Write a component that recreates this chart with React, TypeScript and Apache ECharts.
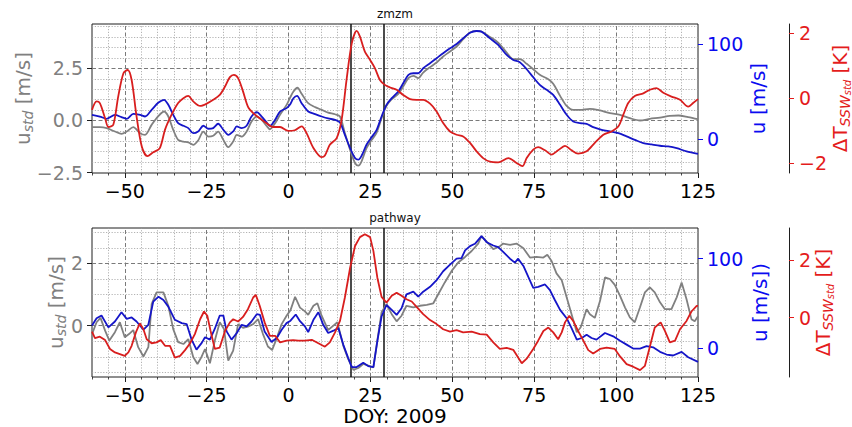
import { useEffect, useRef } from 'react';
import * as echarts from 'echarts';

type Pt = [number, number];

// Axis ticks
const DOY_TICKS = [-50, -25, 0, 25, 50, 75, 100, 125];
const EVENT_DOYS = [19, 29];
const ZMZM_STD_TICKS = [-2.5, 0, 2.5];
const PATHWAY_STD_TICKS = [0, 2];
const WIND_TICKS = [0, 100];
const ZMZM_TEMP_TICKS = [-2, 0, 2];
const PATHWAY_TEMP_TICKS = [0, 2];

// zmzm: standardised wind (grey, left axis)
const zmzmStd: Pt[] = [
  [-60, -0.32], [-57.6, -0.32], [-55.5, -0.37], [-53, -0.53], [-51, -0.64], [-49.4, -0.53], [-47.4, -0.32],
  [-45.3, -0.61], [-43.8, -0.69], [-41.8, -0.21], [-39.7, 0.22], [-38, 0.43], [-36.7, 0.19], [-35.2, -0.45],
  [-33.7, -0.93], [-32.1, -1.01], [-30.6, -1.05], [-29.1, -1.17], [-27.6, -0.96], [-26, -0.53], [-24.5, -0.77],
  [-23, -0.73], [-21.5, -0.53], [-19.9, -0.93], [-18.4, -1.28], [-16.9, -1.01], [-15.8, -0.69], [-14.3, -0.77],
  [-12.8, -0.53], [-11.3, -0.05], [-9.7, 0.19], [-8.2, 0.03], [-6.7, -0.26], [-5.7, -0.42], [-4.1, -0.13],
  [-2.6, 0.27], [-0.6, 0.75], [0.4, 1.07], [1.5, 1.39], [2.7, 1.57], [4, 1.28], [6, 0.83], [8.1, 0.64],
  [10.1, 0.51], [12.1, 0.38], [14.2, 0.3], [15.7, 0.19], [17.2, -0.61], [18.8, -1.41], [20.3, -2.04],
  [21.3, -2.17], [22.3, -1.96], [23.8, -1.33], [25.4, -0.93], [26.9, -0.58], [28.4, 0.11], [29.9, 0.7],
  [31.5, 1.02], [33.5, 1.28], [35, 1.63], [36.6, 2.03], [38.1, 2.14], [39.6, 2.03], [41.1, 2.3], [43.2, 2.56],
  [45.2, 2.78], [47.2, 3.07], [49.3, 3.31], [51.3, 3.55], [53.3, 3.9], [55.4, 4.22], [57.4, 4.3], [58.9, 4.27],
  [61.5, 4.01], [64, 3.74], [66.6, 3.26], [68.6, 2.94], [70.6, 2.94], [72.7, 2.72], [74.7, 2.46], [76.7, 2.19],
  [79.3, 1.98], [80.8, 1.76], [82.9, 1.18], [84.9, 0.7], [86.9, 0.51], [89, 0.51], [92, 0.56], [95.1, 0.48],
  [98.1, 0.35], [101.2, 0.27], [104.2, 0.11], [107.3, 0], [110.3, 0.08], [113.4, 0.14], [116.4, 0.22],
  [119, 0.24], [122, 0.16], [125, 0.06],
];

// zmzm: zonal wind (blue, m/s)
const zmzmWind: Pt[] = [
  [-60, 25.4], [-57.6, 23.6], [-55.5, 21.2], [-53, 25.4], [-51, 22.9], [-49.4, 21.2], [-47.4, 26.5],
  [-45.3, 25.4], [-43.8, 23.6], [-41.8, 30.7], [-39.7, 38.4], [-38, 41.3], [-36.7, 36], [-35.2, 25.4],
  [-33.7, 16.6], [-32.1, 13.8], [-30.6, 11.3], [-29.1, 6], [-27.6, 7.8], [-26, 13.8], [-24.5, 10.6],
  [-23, 11.3], [-21.5, 15.9], [-19.9, 9.5], [-18.4, 4.2], [-16.9, 7.8], [-15.8, 13.1], [-14.3, 11.3],
  [-12.8, 13.8], [-11.3, 23.6], [-9.7, 28.2], [-8.2, 23.6], [-6.7, 17.3], [-5.7, 13.8], [-4.1, 20.1],
  [-2.6, 28.9], [-0.6, 32.5], [0.4, 36], [1.5, 43], [2.6, 45.5], [4, 37.7], [6, 28.9], [8.1, 26.1],
  [10.1, 23.6], [12.1, 21.5], [14.2, 20.1], [15.7, 17.3], [17.2, 4.2], [18.8, -9.9], [20.3, -20.5],
  [21.3, -22.2], [22.3, -18], [23.8, -6.3], [25.4, 1.8], [26.9, 9.5], [28.4, 23.6], [29.9, 36], [31.5, 43],
  [33.5, 50.1], [35, 58.9], [36.6, 67.7], [38.1, 69.5], [39.6, 69.5], [41.1, 74.8], [43.2, 80.1],
  [45.2, 85.4], [47.2, 90.7], [49.3, 95.9], [51.3, 100.5], [53.3, 106.5], [55.4, 112.5], [57.4, 114.3],
  [58.9, 113.6], [61.5, 106.5], [64, 99.5], [66.6, 88.9], [68.6, 83.6], [70.6, 81.1], [72.7, 73.7],
  [74.7, 65.3], [76.7, 57.1], [78.8, 51.9], [80.8, 46.6], [82.9, 36], [84.9, 25.4], [86.9, 18.3], [89, 16.6],
  [91, 15.9], [93, 12.3], [95.6, 9.5], [98.1, 7.8], [100.7, 6], [103.2, 2.5], [105.7, -1.1], [108.3, -4.6],
  [110.8, -6], [113.4, -7.4], [115.9, -8.1], [118.5, -9.9], [121.5, -13.4], [125, -15.9],
];

// zmzm: standardised SSW temperature anomaly (red, K)
const zmzmTemp: Pt[] = [
  [-60, -0.36], [-58.6, -0.1], [-57.6, -0.15], [-56, -0.62], [-55, -0.89], [-53.5, -0.82], [-52, 0.05],
  [-50.4, 0.77], [-49.1, 0.87], [-47.9, 0.56], [-46.4, -0.56], [-44.8, -1.49], [-43.1, -1.79], [-41.3, -1.67],
  [-39.3, -1.54], [-37.7, -0.97], [-35.7, -0.51], [-33.7, -0.15], [-32.1, 0], [-30.6, 0.07], [-29.1, -0.1],
  [-27, -0.24], [-25, -0.17], [-23, -0.05], [-21, 0.1], [-19.4, 0.36], [-17.9, 0.65], [-16.7, 0.72],
  [-15.4, 0.62], [-13.9, 0.21], [-12.4, -0.26], [-10.8, -0.46], [-8.8, -0.62], [-6.8, -0.77], [-4.7, -0.89],
  [-2.6, -0.89], [-0.1, -1.01], [1.9, -0.99], [4, -0.87], [5.5, -1.08], [7.6, -1.54], [10.1, -1.82],
  [11.1, -1.77], [12.6, -1.44], [14.7, -1.23], [16.2, -0.67], [17.7, 0.56], [19.3, 1.69], [20.8, 2.08],
  [21.8, 1.9], [23.3, 1.44], [24.9, 1.18], [26.4, 0.92], [27.9, 0.56], [29.4, 0.41], [31, 0.33], [33, 0.26],
  [35, 0.1], [37.1, -0.03], [39.1, -0.05], [41.1, -0.05], [43.2, -0.17], [45.2, -0.41], [47.2, -0.77],
  [49.3, -1.03], [51.3, -1.13], [53.3, -1.18], [55.4, -1.38], [57.4, -1.64], [59.4, -1.85], [61.5, -1.96],
  [64, -1.98], [67.1, -1.85], [69.6, -2], [71.4, -2.1], [72.7, -1.85], [74.7, -1.59], [76.2, -1.51],
  [78.3, -1.61], [80.3, -1.74], [82.3, -1.61], [84.4, -1.47], [86.4, -1.61], [88.4, -1.71], [91, -1.64],
  [93.5, -1.38], [96.1, -1.13], [98.6, -1.03], [100.7, -0.87], [102.2, -0.51], [103.7, -0.15], [105.7, 0.07],
  [108.3, 0.15], [110.3, 0.26], [112.3, 0.31], [114.4, 0.17], [116.9, 0.05], [119.5, -0.05], [122, -0.26],
  [123.5, -0.15], [125, -0.03],
];

// pathway: standardised wind (grey, left axis)
const pathwayStd: Pt[] = [
  [-60, -0.27], [-58.6, 0.11], [-57.4, 0.25], [-56, -0.16], [-54.7, -0.48], [-53, -0.21], [-51.5, 0.11],
  [-50, -0.37], [-48.7, -0.27], [-47.4, -0.14], [-45.9, -0.69], [-44.3, -0.99], [-42.8, -0.69], [-41.8, 0.69],
  [-40.3, 1.07], [-38.2, 1.07], [-36.7, 0.64], [-35.2, -0.11], [-33.7, -0.53], [-32.1, -0.59], [-30.6, -0.43],
  [-29.1, -1.01], [-27.8, -1.23], [-26.5, -0.99], [-25.5, -0.75], [-24, -1.21], [-22.5, -0.48], [-21, 0.11],
  [-19.7, -0.11], [-18.4, -1.12], [-16.9, -0.8], [-15.4, 0.05], [-13.9, -0.07], [-12.4, -0.03], [-10.8, 0.05],
  [-9.3, 0.21], [-7.8, -0.27], [-6.3, -0.67], [-5, -0.78], [-3.7, -0.43], [-2.1, 0.05], [-0.6, 0.32],
  [0.6, 0.5], [2, 0.93], [3.5, 0.58], [5, 0.46], [6, 0.35], [7.6, 0.64], [8.8, 0.72], [10.1, 0.32],
  [12.1, -0.14], [13.7, 0], [14.9, 0.11], [16.7, -0.64], [18.2, -1.07], [19.8, -1.42], [21.3, -1.36],
  [22.8, -1.23], [24.3, -1.28], [25.9, -1.34], [27.1, -0.48], [28.4, 0.43], [29.9, 0.69], [31.5, 0.37],
  [33, 0.14], [34.5, 0.32], [36, 0.64], [38.1, 0.59], [40.1, 0.64], [42.2, 0.67], [44.2, 0.72], [45.7, 1.01],
  [47.7, 1.39], [49.8, 1.76], [51.8, 2.03], [53.9, 2.21], [55.9, 2.4], [57.9, 2.64], [58.9, 2.88],
  [60.5, 2.7], [62.5, 2.46], [64.5, 2.55], [65.5, 2.64], [67.6, 2.6], [69.6, 2.64], [71.7, 2.49],
  [73.7, 2.19], [75.7, 2.21], [77.8, 2.19], [79, 2.28], [80.3, 2.08], [81.8, 1.68], [83.4, 1.46],
  [84.9, 0.91], [86.4, 0.37], [88, -0.21], [89.2, -0.05], [91, 0.53], [92, 0.37], [93.5, 0.25], [95.1, 0.8],
  [96.6, 1.55], [98.1, 1.5], [99.6, 1.31], [101.2, 0.96], [102.7, 0.59], [104.2, 0.27], [105.7, 0.11],
  [107.3, 0.59], [108.8, 1.07], [110.3, 1.23], [111.8, 1.07], [113.4, 0.75], [114.9, 0.53], [116.9, 0.53],
  [118.5, 0.91], [120, 1.39], [121.5, 0.85], [123, 0.21], [124, 0.14], [125, 0.3],
];

// pathway: zonal wind (blue, m/s)
const pathwayWind: Pt[] = [
  [-60, 25.2], [-58.6, 33.3], [-57.1, 36.3], [-55, 23], [-53, 29.6], [-51, 40], [-49.4, 32.6], [-47.9, 34.1],
  [-46.4, 29.6], [-44.3, 20.4], [-42.8, 25.9], [-41.3, 51.9], [-39.7, 57.4], [-38.2, 53.7], [-36.7, 46.3],
  [-34.7, 31.5], [-32.6, 27.8], [-31.1, 26.7], [-29.6, 9.3], [-28.1, -1.9], [-26.5, 5.6], [-25.5, 11.9],
  [-24, 9.3], [-22.5, 21.5], [-21, 36.3], [-19.9, 36.3], [-18.9, 18.5], [-17.4, 9.3], [-15.8, 16.7],
  [-14.3, 25.9], [-12.8, 24.1], [-11.3, 29.6], [-9.7, 37.8], [-8.7, 37], [-7.3, 18.5], [-5.2, 6.7],
  [-3.6, 11.1], [-2.1, 20.4], [-0.6, 27.8], [0.6, 30.5], [2.2, 37.5], [3.5, 30], [5, 24.1], [6, 17.8],
  [7.6, 31.5], [9.1, 40], [10.6, 25.9], [12.1, 16.7], [13.7, 19.3], [15.2, 22.2], [16.7, 3.7], [18.2, -11.1],
  [19.3, -21.5], [20.8, -21.5], [22.8, -16.7], [24.3, -20.4], [25.9, -21.5], [27.1, 7.4], [28.4, 35.2],
  [29.9, 48.1], [31.5, 42.6], [33, 37], [34.5, 44.4], [36, 60], [38.1, 63], [39.6, 57.4], [41.1, 63],
  [43.2, 68.5], [45.2, 75.9], [47.2, 85.9], [49.3, 93.3], [51.3, 100], [52.8, 100.7], [53.9, 109.3],
  [55.4, 114.1], [56.9, 116.7], [58.9, 125.2], [60.5, 118.5], [62.5, 114.8], [64, 113], [65.6, 107.4],
  [67.6, 100], [69.1, 95.6], [70.1, 100], [71.7, 91.9], [73.2, 79.6], [74.7, 67.4], [76.2, 68.5],
  [78.3, 71.1], [79.8, 64.8], [81.3, 53.7], [82.9, 42.6], [84.9, 33.3], [86.4, 22.2], [88, 9.3], [89.5, 11.1],
  [91, 14.8], [92.5, 11.1], [94, 9.3], [96.6, 16.7], [99.1, 13], [101.2, 8.1], [103.2, 3.7], [105.2, -0.7],
  [107.3, -0.7], [109.3, 1.9], [111.3, 0.7], [113.4, -4.4], [115.4, -7.4], [117.4, -8.5], [120, -4.4],
  [122, -10.4], [125, -15.6],
];

// pathway: standardised SSW temperature anomaly (red, K)
const pathwayTemp: Pt[] = [
  [-60, -0.49], [-59.1, -0.72], [-57.6, -0.67], [-56, -0.79], [-54.5, -1.1], [-53, -1.22], [-51.5, -1.28],
  [-50, -1.34], [-48.9, -1.22], [-47.9, -0.99], [-46.6, -0.52], [-45.4, -0.2], [-44.3, -0.41], [-43.3, -0.76],
  [-41.8, -0.9], [-40.3, -0.87], [-39, -0.79], [-37.7, -0.99], [-36.2, -0.99], [-34.7, -1.4], [-33.1, -1.34],
  [-31.6, -1.14], [-30.1, -0.91], [-28.6, -0.58], [-27, -0.06], [-25.8, 0.21], [-24.8, 0.06], [-23.8, -0.47],
  [-22.5, -1.1], [-21, -1.05], [-19.4, -0.47], [-17.9, -0.17], [-16.9, -0.06], [-15.4, -0.14], [-13.9, 0.02],
  [-12.4, 0.29], [-10.8, 0.7], [-10, 0.79], [-8.8, 0.41], [-7.3, -0.17], [-5.7, -0.64], [-4.1, -0.64],
  [-2.6, -0.87], [-0.6, -0.81], [1.4, -0.79], [3, -0.81], [5, -0.81], [7.1, -0.78], [9.1, -0.9],
  [11.1, -1.02], [12.6, -0.87], [14.2, -0.52], [15.7, -0.12], [17.2, 0.7], [18.8, 1.74], [20.3, 2.5],
  [21.8, 2.81], [23.3, 2.91], [24.9, 2.81], [25.9, 2.33], [27.1, 1.4], [28.4, 0.72], [29.9, 0.52],
  [31.5, 0.76], [33, 0.87], [34.5, 0.76], [36, 0.64], [37.6, 0.56], [39.1, 0.37], [41.1, 0.12],
  [43.2, -0.09], [45.2, -0.23], [47.2, -0.41], [49.3, -0.49], [51.3, -0.44], [53.3, -0.52], [55.9, -0.49],
  [58.4, -0.58], [60.5, -0.6], [62.5, -0.87], [64.5, -1.1], [66.6, -1.06], [68.6, -1.13], [71.2, -1.6],
  [72.7, -1.44], [74.7, -1.1], [76.2, -0.81], [77.8, -0.47], [79.3, -0.35], [80.8, -0.52], [82.3, -0.76],
  [83.4, -0.52], [84.4, -0.17], [85.7, 0.06], [86.9, -0.12], [88.4, -0.47], [90, -0.81], [91.5, -1.14],
  [93, -1.26], [95.1, -1.1], [97.1, -1.05], [99.6, -1.1], [101.2, -1.36], [103.2, -1.63], [105.2, -1.72],
  [107.3, -1.84], [108.8, -1.69], [110.3, -1.02], [111.8, -0.35], [113.6, -0.17], [114.9, -0.47],
  [116.4, -0.87], [118, -0.81], [119.5, -0.41], [121.5, -0.12], [123, 0.21], [124.6, 0.41], [125, 0.41],
];

const FONT = "'DejaVu Sans', 'Liberation Sans', sans-serif";
const GREY = '#808080';
const BLUE = '#1515c8';
const BLUE_TEXT = '#0a0af0';
const RED = '#d81e1e';
const RED_TEXT = '#e41c1c';
const SPINE = '#1e1e1e';

const PLOT_LEFT = 92;
const PLOT_WIDTH = 606;
const PLOT_HEIGHT = 149;
const X_MIN = -60;
const X_MAX = 125;

const fmt = (v: number, digits: number) => {
  const s = Math.abs(v).toFixed(digits);
  return v < 0 ? '\u2212' + s : s;
};

interface Panel {
  title: string;
  top: number;
  std: Pt[];
  wind: Pt[];
  temp: Pt[];
  stdRange: [number, number];
  stdTicks: number[];
  stdDigits: number;
  windRange: [number, number];
  tempRange: [number, number];
  tempTicks: number[];
  windName: string;
  stdNameGap: number;
  windNameGap: number;
  tempNameGap: number;
  smooth: number | boolean;
  xName?: string;
}

const PANELS: Panel[] = [
  {
    title: 'zmzm', top: 24, std: zmzmStd, wind: zmzmWind, temp: zmzmTemp,
    stdRange: [-2.52, 4.63], stdTicks: ZMZM_STD_TICKS, stdDigits: 1,
    windRange: [-36.3, 121.7], tempRange: [-2.31, 2.29], tempTicks: ZMZM_TEMP_TICKS,
    windName: 'u [m/s]', stdNameGap: 57, windNameGap: 48, tempNameGap: 39, smooth: 0.3,
  },
  {
    title: 'pathway', top: 228, std: pathwayStd, wind: pathwayWind, temp: pathwayTemp,
    stdRange: [-1.65, 3.14], stdTicks: PATHWAY_STD_TICKS, stdDigits: 0,
    windRange: [-32.6, 134.4], tempRange: [-2.08, 3.13], tempTicks: PATHWAY_TEMP_TICKS,
    windName: 'u [m/s])', stdNameGap: 24, windNameGap: 50, tempNameGap: 22, smooth: false,
    xName: 'DOY: 2009',
  },
];

// grid-line positions (dashed at labelled ticks, dotted in between)
const stepValues = (from: number, to: number, step: number) => {
  const out: number[] = [];
  for (let v = from; v <= to + 1e-9; v += step) out.push(Math.round(v * 100) / 100);
  return out;
};

const majorStyle = { color: '#7a7a7a', width: 1, type: [4, 2.5] as number[] };
const minorStyle = { color: '#a0a0a0', width: 0.8, type: [1.2, 1.6] as number[] };

function gridMarkLines(p: Panel) {
  const xMinor = stepValues(-55, 120, 5).filter((v) => v % 25 !== 0);
  const xMajor = DOY_TICKS.filter((v) => v < X_MAX);
  const yLo = Math.ceil(p.stdRange[0] * 2 + 1e-6) / 2;
  const yHi = Math.floor(p.stdRange[1] * 2 - 1e-6) / 2;
  const yAll = stepValues(yLo, yHi, 0.5);
  const yMajor = p.stdTicks.filter((v) => v > p.stdRange[0] + 0.05);
  const yMinor = yAll.filter((v) => !p.stdTicks.includes(v));
  return [
    ...xMinor.map((v) => ({ xAxis: v, lineStyle: minorStyle })),
    ...yMinor.map((v) => ({ yAxis: v, lineStyle: minorStyle })),
    ...xMajor.map((v) => ({ xAxis: v, lineStyle: majorStyle })),
    ...yMajor.map((v) => ({ yAxis: v, lineStyle: majorStyle })),
    ...EVENT_DOYS.map((v) => ({ xAxis: v, lineStyle: { color: '#111', width: 1.5, type: 'solid' } })),
  ];
}

function buildOption() {
  const grid = PANELS.map((p) => ({
    left: PLOT_LEFT, width: PLOT_WIDTH, top: p.top, height: PLOT_HEIGHT,
    outerBoundsMode: 'none', containLabel: false,
    show: true, borderColor: SPINE, borderWidth: 1, backgroundColor: 'transparent',
  }));

  const xAxis: any[] = [];
  const yAxis: any[] = [];
  const series: any[] = [];

  PANELS.forEach((p, i) => {
    xAxis.push({
      type: 'value', gridIndex: i, min: X_MIN, max: X_MAX, position: 'bottom',
      axisLine: { show: false, onZero: false },
      axisTick: { show: true, customValues: DOY_TICKS, length: 5, lineStyle: { color: SPINE } },
      axisLabel: {
        customValues: DOY_TICKS, color: '#000', fontSize: 19, fontFamily: FONT, margin: 8,
        formatter: (v: number) => fmt(v, 0), showMinLabel: true, showMaxLabel: true,
      },
      splitLine: { show: false },
      name: p.xName || '', nameLocation: 'middle', nameGap: 27, nameMoveOverlap: false,
      nameTextStyle: { color: '#000', fontSize: 20, fontFamily: FONT, lineHeight: 24 },
    });
    // minor ticks every 5 days
    xAxis.push({
      type: 'value', gridIndex: i, min: X_MIN, max: X_MAX, interval: 5, position: 'bottom',
      axisLine: { show: false, onZero: false },
      axisTick: { show: true, length: 2.5, lineStyle: { color: SPINE, width: 0.8 } },
      axisLabel: { show: false },
      splitLine: { show: false },
    });

    const stdIdx = yAxis.length;
    yAxis.push({
      type: 'value', gridIndex: i, min: p.stdRange[0], max: p.stdRange[1], position: 'left',
      axisLine: { show: false, onZero: false },
      axisTick: { show: true, customValues: p.stdTicks, length: 5, lineStyle: { color: SPINE } },
      axisLabel: {
        customValues: p.stdTicks, color: GREY, fontSize: 19, fontFamily: FONT, margin: 9,
        formatter: (v: number) => fmt(v, p.stdDigits),
      },
      splitLine: { show: false },
      name: 'u{s|std} [m/s]', nameLocation: 'middle', nameRotate: 90, nameGap: p.stdNameGap,
      nameMoveOverlap: false,
      nameTextStyle: {
        color: GREY, fontSize: 20, fontFamily: FONT, lineHeight: 24,
        rich: { s: { color: GREY, fontSize: 14, fontStyle: 'italic', fontFamily: FONT, lineHeight: 12, verticalAlign: 'bottom' } },
      },
    });
    const windIdx = yAxis.length;
    yAxis.push({
      type: 'value', gridIndex: i, min: p.windRange[0], max: p.windRange[1], position: 'right',
      axisLine: { show: false, onZero: false },
      axisTick: { show: true, customValues: WIND_TICKS, length: 5, lineStyle: { color: BLUE_TEXT } },
      axisLabel: {
        customValues: WIND_TICKS, color: BLUE_TEXT, fontSize: 19, fontFamily: FONT, margin: 9,
        formatter: (v: number) => fmt(v, 0),
      },
      splitLine: { show: false },
      name: p.windName, nameLocation: 'middle', nameRotate: 90, nameGap: p.windNameGap,
      nameMoveOverlap: false,
      nameTextStyle: { color: BLUE_TEXT, fontSize: 20, fontFamily: FONT, lineHeight: 24 },
    });
    const tempIdx = yAxis.length;
    yAxis.push({
      type: 'value', gridIndex: i, min: p.tempRange[0], max: p.tempRange[1], position: 'right', offset: 91,
      axisLine: { show: true, onZero: false, lineStyle: { color: SPINE, width: 1 } },
      axisTick: { show: true, customValues: p.tempTicks, length: 5, lineStyle: { color: RED_TEXT } },
      axisLabel: {
        customValues: p.tempTicks, color: RED_TEXT, fontSize: 19, fontFamily: FONT, margin: 10,
        formatter: (v: number) => fmt(v, 0),
      },
      splitLine: { show: false },
      name: '\u0394T{s|SSW}{ss|std} [K]', nameLocation: 'middle', nameRotate: 90, nameGap: p.tempNameGap,
      nameMoveOverlap: false,
      nameTextStyle: {
        color: RED_TEXT, fontSize: 20, fontFamily: FONT, lineHeight: 24,
        rich: {
          s: { color: RED_TEXT, fontSize: 14, fontStyle: 'italic', fontFamily: FONT, lineHeight: 12, verticalAlign: 'bottom' },
          ss: { color: RED_TEXT, fontSize: 10, fontStyle: 'italic', fontFamily: FONT, lineHeight: 4, verticalAlign: 'bottom' },
        },
      },
    });

    const xIdx = i * 2;
    series.push({
      type: 'line', xAxisIndex: xIdx, yAxisIndex: stdIdx, data: [], silent: true, z: 1,
      markLine: {
        silent: true, symbol: ['none', 'none'], label: { show: false }, animation: false, z: 1,
        emphasis: { disabled: true }, data: gridMarkLines(p),
      },
    });
    const line = (data: Pt[], yIdx: number, color: string, z: number) => ({
      type: 'line', xAxisIndex: xIdx, yAxisIndex: yIdx, data, z,
      showSymbol: false, symbol: 'none', smooth: p.smooth, silent: true,
      lineStyle: { color, width: 1.8 }, emphasis: { disabled: true },
    });
    series.push(line(p.std, stdIdx, GREY, 3));
    series.push(line(p.wind, windIdx, BLUE, 4));
    series.push(line(p.temp, tempIdx, RED, 5));
  });

  const graphic = PANELS.map((p) => ({
    type: 'text', x: PLOT_LEFT + PLOT_WIDTH / 2, y: p.top - 10, silent: true,
    style: { text: p.title, fill: '#111', fontSize: 12, fontFamily: FONT, align: 'center', verticalAlign: 'middle' },
  }));

  return {
    animation: false,
    backgroundColor: '#ffffff',
    textStyle: { fontFamily: FONT },
    grid, xAxis, yAxis, series, graphic,
  };
}

export default function App() {
  const ref = useRef<HTMLDivElement>(null);
  useEffect(() => {
    if (!ref.current) return;
    const chart = echarts.init(ref.current, undefined, { renderer: 'svg' });
    chart.setOption(buildOption() as any);
    return () => chart.dispose();
  }, []);
  return (
    <div
      ref={ref}
      style={{ position: 'fixed', left: 0, top: 0, width: 852, height: 427, background: '#fff' }}
    />
  );
}
